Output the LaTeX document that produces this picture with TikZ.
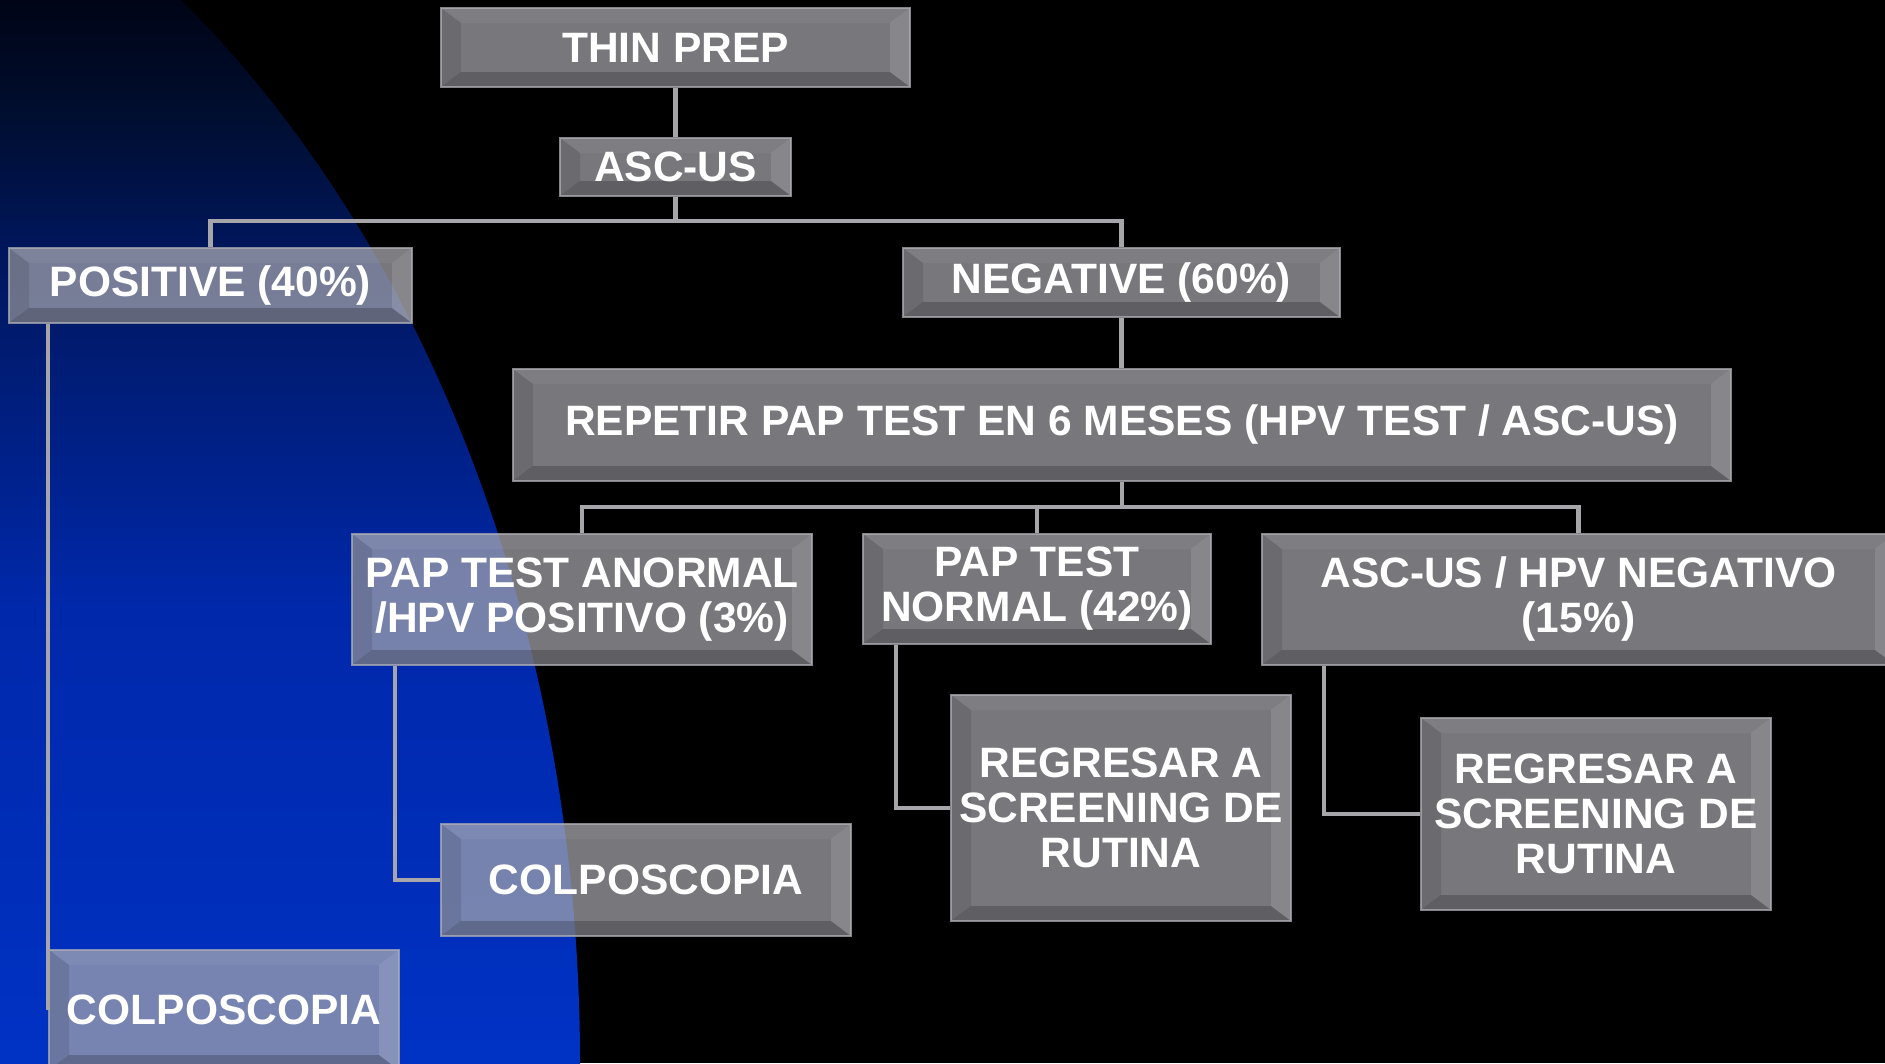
\documentclass[tikz,border=0pt]{standalone}
\usepackage{fontspec}
\setmainfont{Liberation Sans}
\definecolor{bgA}{RGB}{0,50,196}
\definecolor{bgB}{RGB}{0,40,170}
\definecolor{bgC}{RGB}{0,22,90}
\definecolor{bgE}{RGB}{0,14,48}
\definecolor{bgD}{RGB}{0,4,22}
\definecolor{facec}{RGB}{166,165,172}
\definecolor{edgec}{RGB}{175,175,182}
\definecolor{connc}{RGB}{165,165,170}
\pgfdeclareverticalshading{bgblue}{100bp}{color(0bp)=(bgA); color(25bp)=(bgA); color(46.5bp)=(bgB); color(63.5bp)=(bgC); color(69.5bp)=(bgE); color(75bp)=(bgD); color(100bp)=(bgD)}
\newcommand\bvfont{\fontsize{42.5}{45}\selectfont\bfseries}
\tikzset{
  bx/.style={draw=edgec, line width=2pt, draw opacity=0.75, fill=facec, fill opacity=0.72,
    text opacity=1, text=white, inner sep=0pt, align=center, font=\bvfont,
    path picture={
      \path[fill=white, fill opacity=0.05] (path picture bounding box.north west) -- (path picture bounding box.north east) -- ([shift={(-20pt,-15pt)}]path picture bounding box.north east) -- ([shift={(20pt,-15pt)}]path picture bounding box.north west) -- cycle;
      \path[fill=black, fill opacity=0.2] (path picture bounding box.south west) -- (path picture bounding box.south east) -- ([shift={(-20pt,15pt)}]path picture bounding box.south east) -- ([shift={(20pt,15pt)}]path picture bounding box.south west) -- cycle;
      \path[fill=black, fill opacity=0.1] (path picture bounding box.south west) -- (path picture bounding box.north west) -- ([shift={(20pt,-15pt)}]path picture bounding box.north west) -- ([shift={(20pt,15pt)}]path picture bounding box.south west) -- cycle;
      \path[fill=white, fill opacity=0.12] (path picture bounding box.south east) -- (path picture bounding box.north east) -- ([shift={(-20pt,-15pt)}]path picture bounding box.north east) -- ([shift={(-20pt,15pt)}]path picture bounding box.south east) -- cycle;
    }},
  conn/.style={draw=connc, line width=4.5pt}
}
\begin{document}
\begin{tikzpicture}[x=1pt,y=1pt]
\useasboundingbox (0,-1063) rectangle (1885,0);
\clip (0,-1063) rectangle (1885,0);
\fill[black] (0,-1063) rectangle (1885,0);
\begin{scope}
  \clip (-400,-1063) ellipse [x radius=980, y radius=1320];
  \shade[shading=bgblue] (0,-1063) rectangle (1000,0);
\end{scope}

% connectors
\coordinate (busa) at (675.5,-221);
\coordinate (busb) at (1122,-507);

% nodes
\node[bx, minimum width=469pt, minimum height=79pt] (thin) at (675.5,-47.5) {THIN PREP};
\node[bx, minimum width=231pt, minimum height=58pt] (ascus) at (675.5,-167) {ASC-US};
\node[bx, minimum width=403pt, minimum height=75pt] (pos) at (210.5,-285.5) {POSITIVE (40\%)};
\node[bx, minimum width=437pt, minimum height=69pt] (neg) at (1121.5,-282.5) {NEGATIVE (60\%)};
\node[bx, minimum width=1218pt, minimum height=112pt] (rep) at (1122,-425) {REPETIR PAP TEST EN 6 MESES (HPV TEST / ASC-US)};
\node[bx, minimum width=460pt, minimum height=131pt] (anor) at (582,-599.5) {PAP TEST ANORMAL\\/HPV POSITIVO (3\%)};
\node[bx, minimum width=348pt, minimum height=110pt] (norm) at (1037,-589) {PAP TEST\\NORMAL (42\%)};
\node[bx, minimum width=633pt, minimum height=131pt] (hneg) at (1578.5,-599.5) {ASC-US / HPV NEGATIVO\\(15\%)};
\node[bx, minimum width=410pt, minimum height=112pt] (colpa) at (646,-880) {COLPOSCOPIA};
\node[bx, minimum width=340pt, minimum height=226pt] (rega) at (1121,-808) {REGRESAR A\\SCREENING DE\\RUTINA};
\node[bx, minimum width=350pt, minimum height=192pt] (regb) at (1596,-814) {REGRESAR A\\SCREENING DE\\RUTINA};
\node[bx, minimum width=350pt, minimum height=120pt] (colpb) at (224,-1010) {COLPOSCOPIA};

\draw[conn] (thin.south) -- (ascus.north);
\draw[conn] (ascus.south) -- (busa);
\draw[conn] (pos.north) |- (busa) -| (neg.north);
\draw[conn] (neg.south) -- (neg.south |- rep.north);
\draw[conn] (rep.south) -- (busb);
\draw[conn] (anor.north) |- (busb) -| (hneg.north);
\draw[conn] (busb -| norm.north) -- (norm.north);
\draw[conn] ([xshift=44pt]anor.south west) |- (colpa.west);
\draw[conn] ([xshift=34pt]norm.south west) |- (rega.west);
\draw[conn] ([xshift=63pt]hneg.south west) |- (regb.west);
\draw[conn] ([xshift=40pt]pos.south west) |- (colpb.west);
\end{tikzpicture}
\end{document}
